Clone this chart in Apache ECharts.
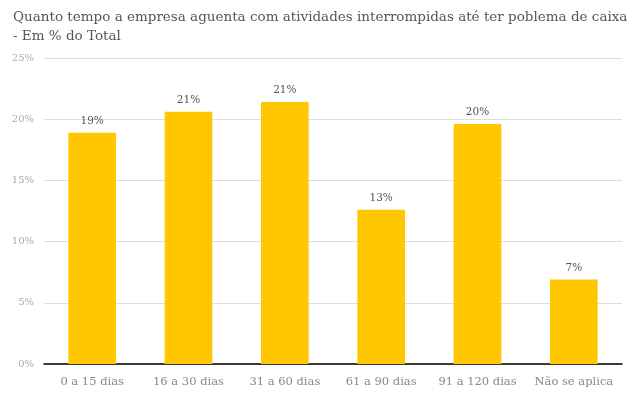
<!DOCTYPE html>
<html><head><meta charset="utf-8">
<script src="https://cdn.jsdelivr.net/npm/echarts@6/dist/echarts.min.js"></script>
<style>html,body{margin:0;padding:0;background:#fff}#c{width:640px;height:396px}</style>
</head><body><div id="c"></div>
<script>
const categories = ["0 a 15 dias","16 a 30 dias","31 a 60 dias","61 a 90 dias","91 a 120 dias","Não se aplica"];
const values = [18.9, 20.6, 21.4, 12.6, 19.6, 6.9];
const yTicks = [0, 5, 10, 15, 20, 25];
const titleText = "Quanto tempo a empresa aguenta com atividades interrompidas até ter poblema de caixa\n- Em % do Total";
const font = "'DejaVu Serif', serif";
const chart = echarts.init(document.getElementById('c'));
chart.setOption({
  animation: false,
  title: { text: titleText, left: 8, top: 3, padding: 5,
    textStyle: { fontFamily: font, fontWeight: 'normal', fontSize: 13.5, color: '#555', lineHeight: 19 } },
  grid: { left: 44, right: 18, top: 58, bottom: 32 },
  xAxis: { type: 'category', data: categories,
    axisLine: { lineStyle: { color: '#000', width: 1.5 } }, axisTick: { show: false },
    axisLabel: { interval: 0, fontFamily: font, fontSize: 11.5, color: '#888', margin: 12 } },
  yAxis: { type: 'value', min: yTicks[0], max: yTicks[yTicks.length-1], interval: 5,
    axisLine: { show: false }, axisTick: { show: false },
    splitLine: { lineStyle: { color: '#ddd' } },
    axisLabel: { fontFamily: font, fontSize: 10, color: '#aaa', margin: 10, formatter: v => v + '%' } },
  series: [{ type: 'bar', data: values, barWidth: '49.5%', itemStyle: { color: '#FFC700' },
    label: { show: true, position: 'top', distance: 6, fontFamily: font, fontSize: 10.5, color: '#555',
      formatter: p => Math.round(p.value) + '%' } }]
});
</script></body></html>
